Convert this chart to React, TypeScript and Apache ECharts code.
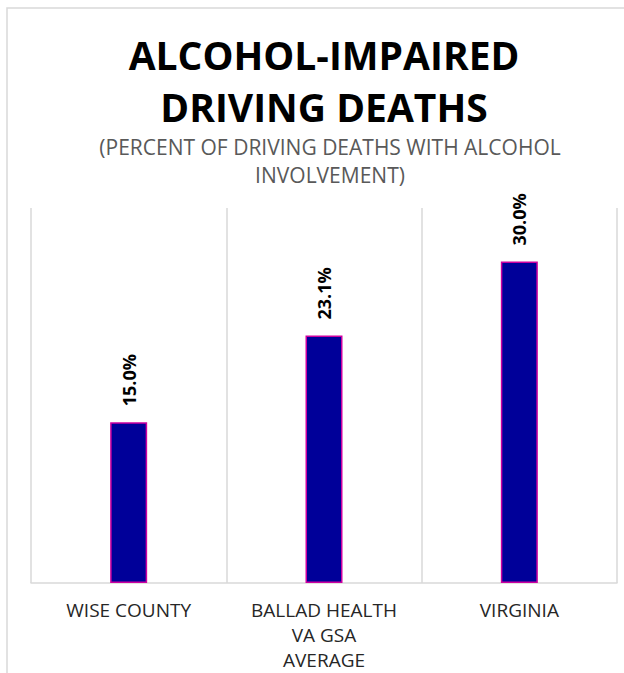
import React, { useEffect, useRef } from "react";
import * as echarts from "echarts";

const categories = ["WISE COUNTY", "BALLAD HEALTH\nVA GSA\nAVERAGE", "VIRGINIA"];
const values = [15.0, 23.1, 30.0];
const titleText = "ALCOHOL-IMPAIRED\nDRIVING DEATHS";
const subtitleText = "(PERCENT OF DRIVING DEATHS WITH ALCOHOL\nINVOLVEMENT)";

export default function App() {
  const ref = useRef<HTMLDivElement>(null);
  useEffect(() => {
    if (!ref.current) return;
    const chart = echarts.init(ref.current, undefined, { renderer: "svg" });
    const font = "'Open Sans', 'Noto Sans', sans-serif";
    chart.setOption({
      animation: false,
      backgroundColor: "#ffffff",
      title: [
        {
          text: titleText,
          left: 319,
          top: 23,
          textAlign: "center",
          textStyle: {
            fontFamily: font,
            fontWeight: "bold",
            fontSize: 39,
            lineHeight: 52,
            color: "#000000",
          },
        },
        {
          text: subtitleText,
          left: 325,
          top: 128,
          textAlign: "center",
          textStyle: {
            fontFamily: font,
            fontWeight: "normal",
            fontSize: 21,
            lineHeight: 28,
            color: "#595959",
          },
        },
      ],
      graphic: [
        {
          type: "rect",
          shape: { x: 7, y: 8, width: 700, height: 700 },
          style: { fill: "none", stroke: "#d9d9d9", lineWidth: 1.5 },
          silent: true,
        },
      ],
      grid: {
        left: 31,
        right: 7,
        top: 208,
        bottom: 90,
        containLabel: false,
        outerBoundsMode: "none",
      },
      xAxis: {
        type: "category",
        data: categories,
        axisLine: { show: true, lineStyle: { color: "#d9d9d9", width: 1.5 } },
        axisTick: { show: false },
        splitLine: { show: true, interval: 0, lineStyle: { color: "#d9d9d9", width: 1.5 } },
        axisLabel: {
          interval: 0,
          margin: 14,
          fontFamily: font,
          fontSize: 19,
          lineHeight: 25,
          color: "#262626",
        },
      },
      yAxis: {
        type: "value",
        min: 0,
        max: 35,
        show: false,
        splitLine: { show: false },
      },
      series: [
        {
          type: "bar",
          data: values,
          barWidth: 37,
          itemStyle: { color: "#000099", borderColor: "#CC00A0", borderWidth: 1.5 },
          label: {
            show: true,
            position: "top",
            rotate: 90,
            align: "left",
            verticalAlign: "middle",
            distance: 16,
            fontFamily: font,
            fontWeight: "bold",
            fontSize: 18,
            color: "#000000",
            formatter: (p: any) => p.value.toFixed(1) + "%",
          },
        },
      ],
    });
    return () => chart.dispose();
  }, []);
  return (
    <div
      ref={ref}
      style={{ position: "absolute", left: 0, top: 0, width: 624, height: 673 }}
    />
  );
}
